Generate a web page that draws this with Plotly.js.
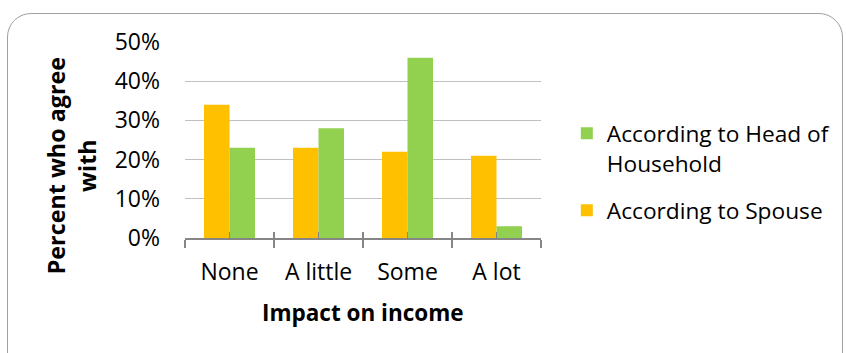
<!DOCTYPE html>
<html>
<head>
<meta charset="utf-8">
<script src="https://cdn.plot.ly/plotly-3.0.1.min.js"></script>
<style>
html,body{margin:0;padding:0;background:#fff;}
#wrap{position:relative;width:846px;height:353px;overflow:hidden;}
#frame{position:absolute;left:7px;top:13px;width:834px;height:400px;border:1.5px solid #a0a0a0;border-radius:24px;pointer-events:none;}
#chart{position:absolute;left:0;top:0;width:846px;height:353px;}
</style>
</head>
<body>
<div id="wrap">
<div id="frame"></div>
<div id="chart"></div>
</div>
<script>
const categories = ["None", "A little", "Some", "A lot"];
const spouseValues = [34, 23, 22, 21];
const headValues = [23, 28, 46, 3];
const seriesNames = ["According to Spouse", "According to Head of<br>Household"];
const yTickVals = [0, 10, 20, 30, 40, 50];
const yTickText = ["0%", "10%", "20%", "30%", "40%", "50%"];
const xTitle = "Impact on income";
const yTitle = "Percent who agree<br>with";

const FONT = "Open Sans, sans-serif";
const traces = [
  {type: "bar", x: categories, y: spouseValues, name: seriesNames[0], legendgroup: "s", legendrank: 2,
   marker: {color: "#FFC000", line: {width: 0}}, hoverinfo: "skip"},
  {type: "bar", x: categories, y: headValues, name: seriesNames[1], legendgroup: "h", legendrank: 1,
   marker: {color: "#92D050", line: {width: 0}}, hoverinfo: "skip"}
];
const tickPos = [];
for (let i = -0.5; i <= categories.length - 0.5 + 1e-9; i += 0.5) tickPos.push(i);
traces.push({type: "scatter", x: [-0.5], y: [0], xaxis: "x2", mode: "none", showlegend: false, hoverinfo: "skip"});

const layout = {
  width: 846, height: 353,
  margin: {l: 185, r: 305, t: 42, b: 115},
  paper_bgcolor: "rgba(0,0,0,0)", plot_bgcolor: "rgba(0,0,0,0)",
  barmode: "group", bargap: 0.427, bargroupgap: 0,
  font: {family: FONT, size: 22, color: "#000"},
  xaxis: {
    type: "category", range: [-0.5, 3.5], tickson: "boundaries",
    ticks: "outside", ticklen: 8, tickwidth: 1.5, tickcolor: "#868686",
    showline: true, linecolor: "#868686", linewidth: 2,
    showgrid: false, zeroline: false, ticklabelstandoff: 12,
    tickfont: {family: FONT, size: 23, color: "#000"}
  },
  xaxis2: {
    overlaying: "x", anchor: "y", range: [-0.5, 3.5], tickvals: tickPos,
    ticks: "inside", ticklen: 6, tickwidth: 1.5, tickcolor: "#868686",
    showticklabels: false, showgrid: false, zeroline: false, showline: false
  },
  yaxis: {
    range: [0, 50], tickvals: yTickVals, ticktext: yTickText,
    showgrid: true, gridcolor: "#c0c0c0", gridwidth: 1.3,
    zeroline: false, showline: false, ticks: "", ticklabelstandoff: 24,
    tickfont: {family: FONT, size: 23, color: "#000"}
  },
  showlegend: true,
  legend: {
    x: 0.670, xanchor: "left", xref: "container", y: 0.683, yanchor: "top", yref: "container",
    traceorder: "grouped", valign: "top",
    font: {family: FONT, size: 22.7, color: "#000"},
    itemwidth: 30, tracegroupgap: 15, bgcolor: "rgba(0,0,0,0)"
  },
  annotations: [
    {text: "<b>" + xTitle + "</b>", xref: "paper", yref: "paper", x: 0.5, y: -0.38,
     xanchor: "center", yanchor: "middle", showarrow: false,
     font: {family: FONT, size: 22.5, color: "#000"}},
    {text: "<b>" + yTitle + "</b>", xref: "paper", yref: "paper", x: -0.318, y: 0.37,
     xanchor: "center", yanchor: "middle", showarrow: false, textangle: -90,
     font: {family: FONT, size: 23.3, color: "#000"}}
  ]
};
Plotly.newPlot("chart", traces, layout, {staticPlot: true, displayModeBar: false});
</script>
</body>
</html>
